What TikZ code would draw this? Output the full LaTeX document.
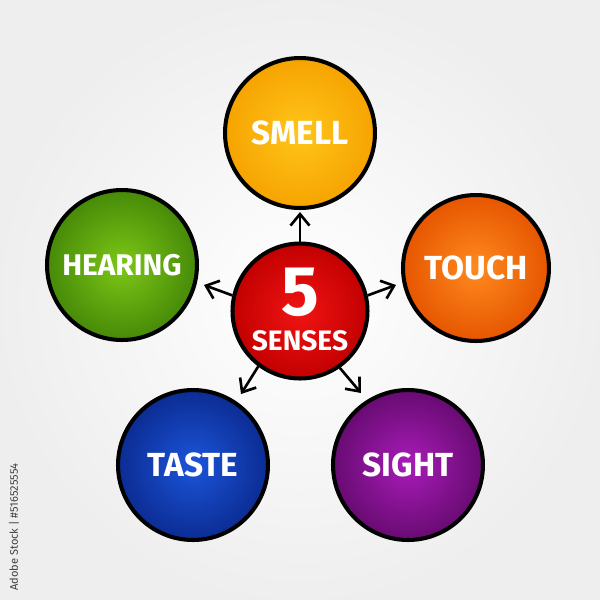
\documentclass[tikz,border=0pt]{standalone}
\usepackage{fontspec}
\setmainfont{Fira Sans}
\usetikzlibrary{arrows.meta}

\definecolor{smellin}{HTML}{FFC61A}
\definecolor{smellout}{HTML}{F6A300}
\definecolor{touchin}{HTML}{FF8A1F}
\definecolor{touchout}{HTML}{E65600}
\definecolor{hearin}{HTML}{7DC716}
\definecolor{hearout}{HTML}{468A08}
\definecolor{tastein}{HTML}{1C55DA}
\definecolor{tasteout}{HTML}{0B2C93}
\definecolor{sightin}{HTML}{A81CB8}
\definecolor{sightout}{HTML}{680B72}
\definecolor{sensein}{HTML}{F21414}
\definecolor{senseout}{HTML}{C20000}

\begin{document}
\begin{tikzpicture}[x=0.02cm,y=-0.02cm,
    sense/.style={circle,draw=black,line width=2.3pt,minimum size=3cm,
        text=white,font=\bfseries\fontsize{19}{19}\selectfont},
    pointer/.style={line width=1.5pt,-{Straight Barb[length=2.3mm,width=3.8mm,line width=1.5pt]}}]

    % background
    \shade[inner color=white,outer color=gray!13] (0,0) rectangle (600,600);
    \useasboundingbox (0,0) rectangle (600,600);

    % the five senses
    \node[sense,inner color=smellin,outer color=smellout] (smell) at (300,133) {SMELL};
    \node[sense,inner color=touchin,outer color=touchout,minimum size=2.92cm] (touch) at (476,268) {TOUCH};
    \node[sense,inner color=hearin,outer color=hearout,font=\bfseries\fontsize{17}{17}\selectfont] (hearing) at (122,265) {HEARING};
    \node[sense,inner color=tastein,outer color=tasteout] (taste) at (193,465) {TASTE};
    \node[sense,inner color=sightin,outer color=sightout] (sight) at (408,465) {SIGHT};

    % centre circle
    \node[sense,inner color=sensein,outer color=senseout,minimum size=2.7cm] (senses) at (300,311) {};
    \node[inner sep=0pt,text=white,font=\bfseries\fontsize{40}{40}\selectfont] (five) at (300,292) {5};
    \node[inner sep=0pt,text=white,font=\bfseries\fontsize{16}{16}\selectfont] (word) at (300,341) {SENSES};

    % arrow tips
    \coordinate (tipsmell) at (300,212);
    \coordinate (tiptouch) at (396,285);
    \coordinate (tiphearing) at (204,285);
    \coordinate (tiptaste) at (241,394);
    \coordinate (tipsight) at (361,393);

    \draw[pointer] (senses.90) -- (tipsmell);
    \draw[pointer] (senses.13) -- (tiptouch);
    \draw[pointer] (senses.167) -- (tiphearing);
    \draw[pointer] (senses.233) -- (tiptaste);
    \draw[pointer] (senses.305) -- (tipsight);

    % stock number
    \node[rotate=90,text=black!75,font=\fontsize{6.3}{6.3}\selectfont] (stockid) at (14,527) {Adobe Stock | \#516525554};
\end{tikzpicture}
\end{document}
